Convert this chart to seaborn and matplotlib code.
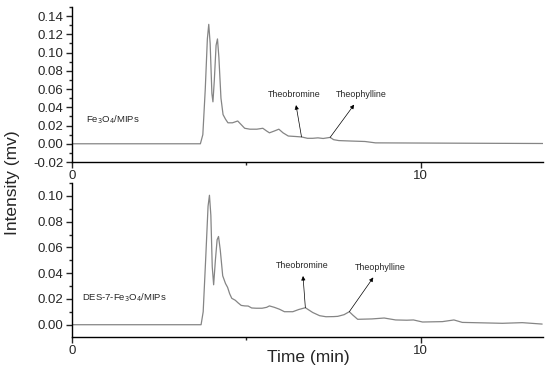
import numpy as np
import pandas as pd
import matplotlib
matplotlib.use("Agg")
import matplotlib.pyplot as plt
from matplotlib.ticker import MultipleLocator
import seaborn as sns

# chromatogram 1: Fe3O4/MIPs (time in min, intensity in mv)
time_a = [0, 3.68, 3.75, 3.82, 3.88, 3.92, 3.96, 4.01, 4.04, 4.08, 4.13, 4.17,
          4.21, 4.27, 4.33, 4.40, 4.47, 4.60, 4.75, 4.85, 4.95, 5.10, 5.30, 5.47,
          5.58, 5.66, 5.80, 5.93, 6.05, 6.20, 6.40, 6.58, 6.75, 6.90, 7.05, 7.20,
          7.40, 7.50, 7.65, 8.00, 8.40, 8.70, 10.0, 12.0, 13.5]
signal_a = [0, 0, 0.010, 0.060, 0.115, 0.131, 0.110, 0.055, 0.046, 0.070, 0.108, 0.115,
            0.095, 0.050, 0.032, 0.027, 0.023, 0.023, 0.025, 0.021, 0.017, 0.016, 0.016, 0.017,
            0.014, 0.012, 0.014, 0.016, 0.012, 0.0085, 0.008, 0.0075, 0.006, 0.006, 0.0065, 0.0058,
            0.007, 0.0045, 0.0035, 0.003, 0.0025, 0.001, 0.0008, 0.0005, 0.0003]

# chromatogram 2: DES-7-Fe3O4/MIPs
time_b = [0, 3.70, 3.76, 3.83, 3.90, 3.94, 3.98, 4.02, 4.06, 4.11, 4.16, 4.20,
          4.25, 4.32, 4.40, 4.46, 4.52, 4.58, 4.68, 4.76, 4.85, 4.95, 5.05, 5.15,
          5.28, 5.45, 5.58, 5.66, 5.80, 5.95, 6.09, 6.33, 6.50, 6.69, 6.90, 7.10,
          7.28, 7.50, 7.62, 7.80, 7.95, 8.05, 8.19, 8.60, 8.95, 9.28, 9.60, 9.79,
          10.05, 10.62, 10.95, 11.19, 12.34, 12.91, 13.48]
signal_b = [0, 0, 0.010, 0.050, 0.092, 0.1005, 0.085, 0.045, 0.031, 0.050, 0.066, 0.0685,
            0.058, 0.038, 0.032, 0.029, 0.024, 0.0205, 0.019, 0.017, 0.015, 0.0146, 0.0145, 0.013,
            0.0128, 0.0128, 0.0135, 0.0146, 0.0135, 0.012, 0.0101, 0.0101, 0.0118, 0.0132, 0.0095, 0.007,
            0.0062, 0.0063, 0.0065, 0.0078, 0.0101, 0.0075, 0.0042, 0.0045, 0.0052, 0.0037, 0.0035, 0.0037,
            0.0021, 0.0024, 0.0037, 0.0018, 0.0011, 0.0016, 0.0005]

# peak annotations: (label, peak time, peak intensity, text x, text y)
peaks_a = [("Theobromine", 6.58, 0.0075, 6.37, 0.049),
           ("Theophylline", 7.40, 0.007, 8.30, 0.049)]
peaks_b = [("Theobromine", 6.69, 0.0132, 6.60, 0.0425),
           ("Theophylline", 7.95, 0.0101, 8.84, 0.041)]

sns.set_style("ticks")
plt.rcParams["font.family"] = ["Liberation Sans", "DejaVu Sans"]

fig = plt.figure(figsize=(5.5, 3.72), dpi=100)
ax1 = fig.add_axes([0.131, 0.5645, 0.856, 0.4166])
ax2 = fig.add_axes([0.131, 0.0949, 0.856, 0.4131])

line_color = "#858585"

df_a = pd.DataFrame({"time": time_a, "signal": signal_a})
df_b = pd.DataFrame({"time": time_b, "signal": signal_b})
sns.lineplot(data=df_a, x="time", y="signal", ax=ax1, color=line_color, linewidth=0.9)
sns.lineplot(data=df_b, x="time", y="signal", ax=ax2, color=line_color, linewidth=0.9)


def style_axis(ax, ymin, ymax):
    ax.set_xlim(0, 13.5)
    ax.set_ylim(ymin, ymax)
    ax.set_xlabel("")
    ax.set_ylabel("")
    sns.despine(ax=ax)
    for s in ["left", "bottom"]:
        ax.spines[s].set_linewidth(1.0)
        ax.spines[s].set_color("black")
    ax.xaxis.set_major_locator(MultipleLocator(10))
    ax.xaxis.set_minor_locator(MultipleLocator(5))
    ax.yaxis.set_major_locator(MultipleLocator(0.02))
    ax.yaxis.set_minor_locator(MultipleLocator(0.01))
    ax.tick_params(which="major", direction="out", length=4, width=1.0, labelsize=9.5, pad=2)
    ax.tick_params(which="minor", direction="out", length=2.5, width=1.0)
    ax.yaxis.set_major_formatter(plt.FuncFormatter(lambda v, p: f"{v:.2f}"))
    ax.patch.set_alpha(0)


style_axis(ax1, -0.02, 0.15)
style_axis(ax2, -0.0093, 0.11)

for ax, peaks in [(ax1, peaks_a), (ax2, peaks_b)]:
    for label, px, py, tx, ty in peaks:
        ax.annotate(label, xy=(px, py), xytext=(tx, ty), ha="center", va="bottom",
                    fontsize=6.4,
                    arrowprops=dict(arrowstyle="<|-", color="black", lw=0.5,
                                    mutation_scale=6, shrinkA=2, shrinkB=0))

ax1.text(0.4, 0.026, "Fe$_3$O$_4$/MIPs", fontsize=6.8, va="center", ha="left")
ax2.text(0.28, 0.0213, "DES-7-Fe$_3$O$_4$/MIPs", fontsize=6.8, va="center", ha="left")

fig.text(0.022, 0.51, "Intensity (mv)", rotation=90, fontsize=12.5, va="center", ha="center")
fig.text(0.56, 0.04, "Time (min)", fontsize=12.5, va="center", ha="center")

fig.savefig("out.png", dpi=100)
